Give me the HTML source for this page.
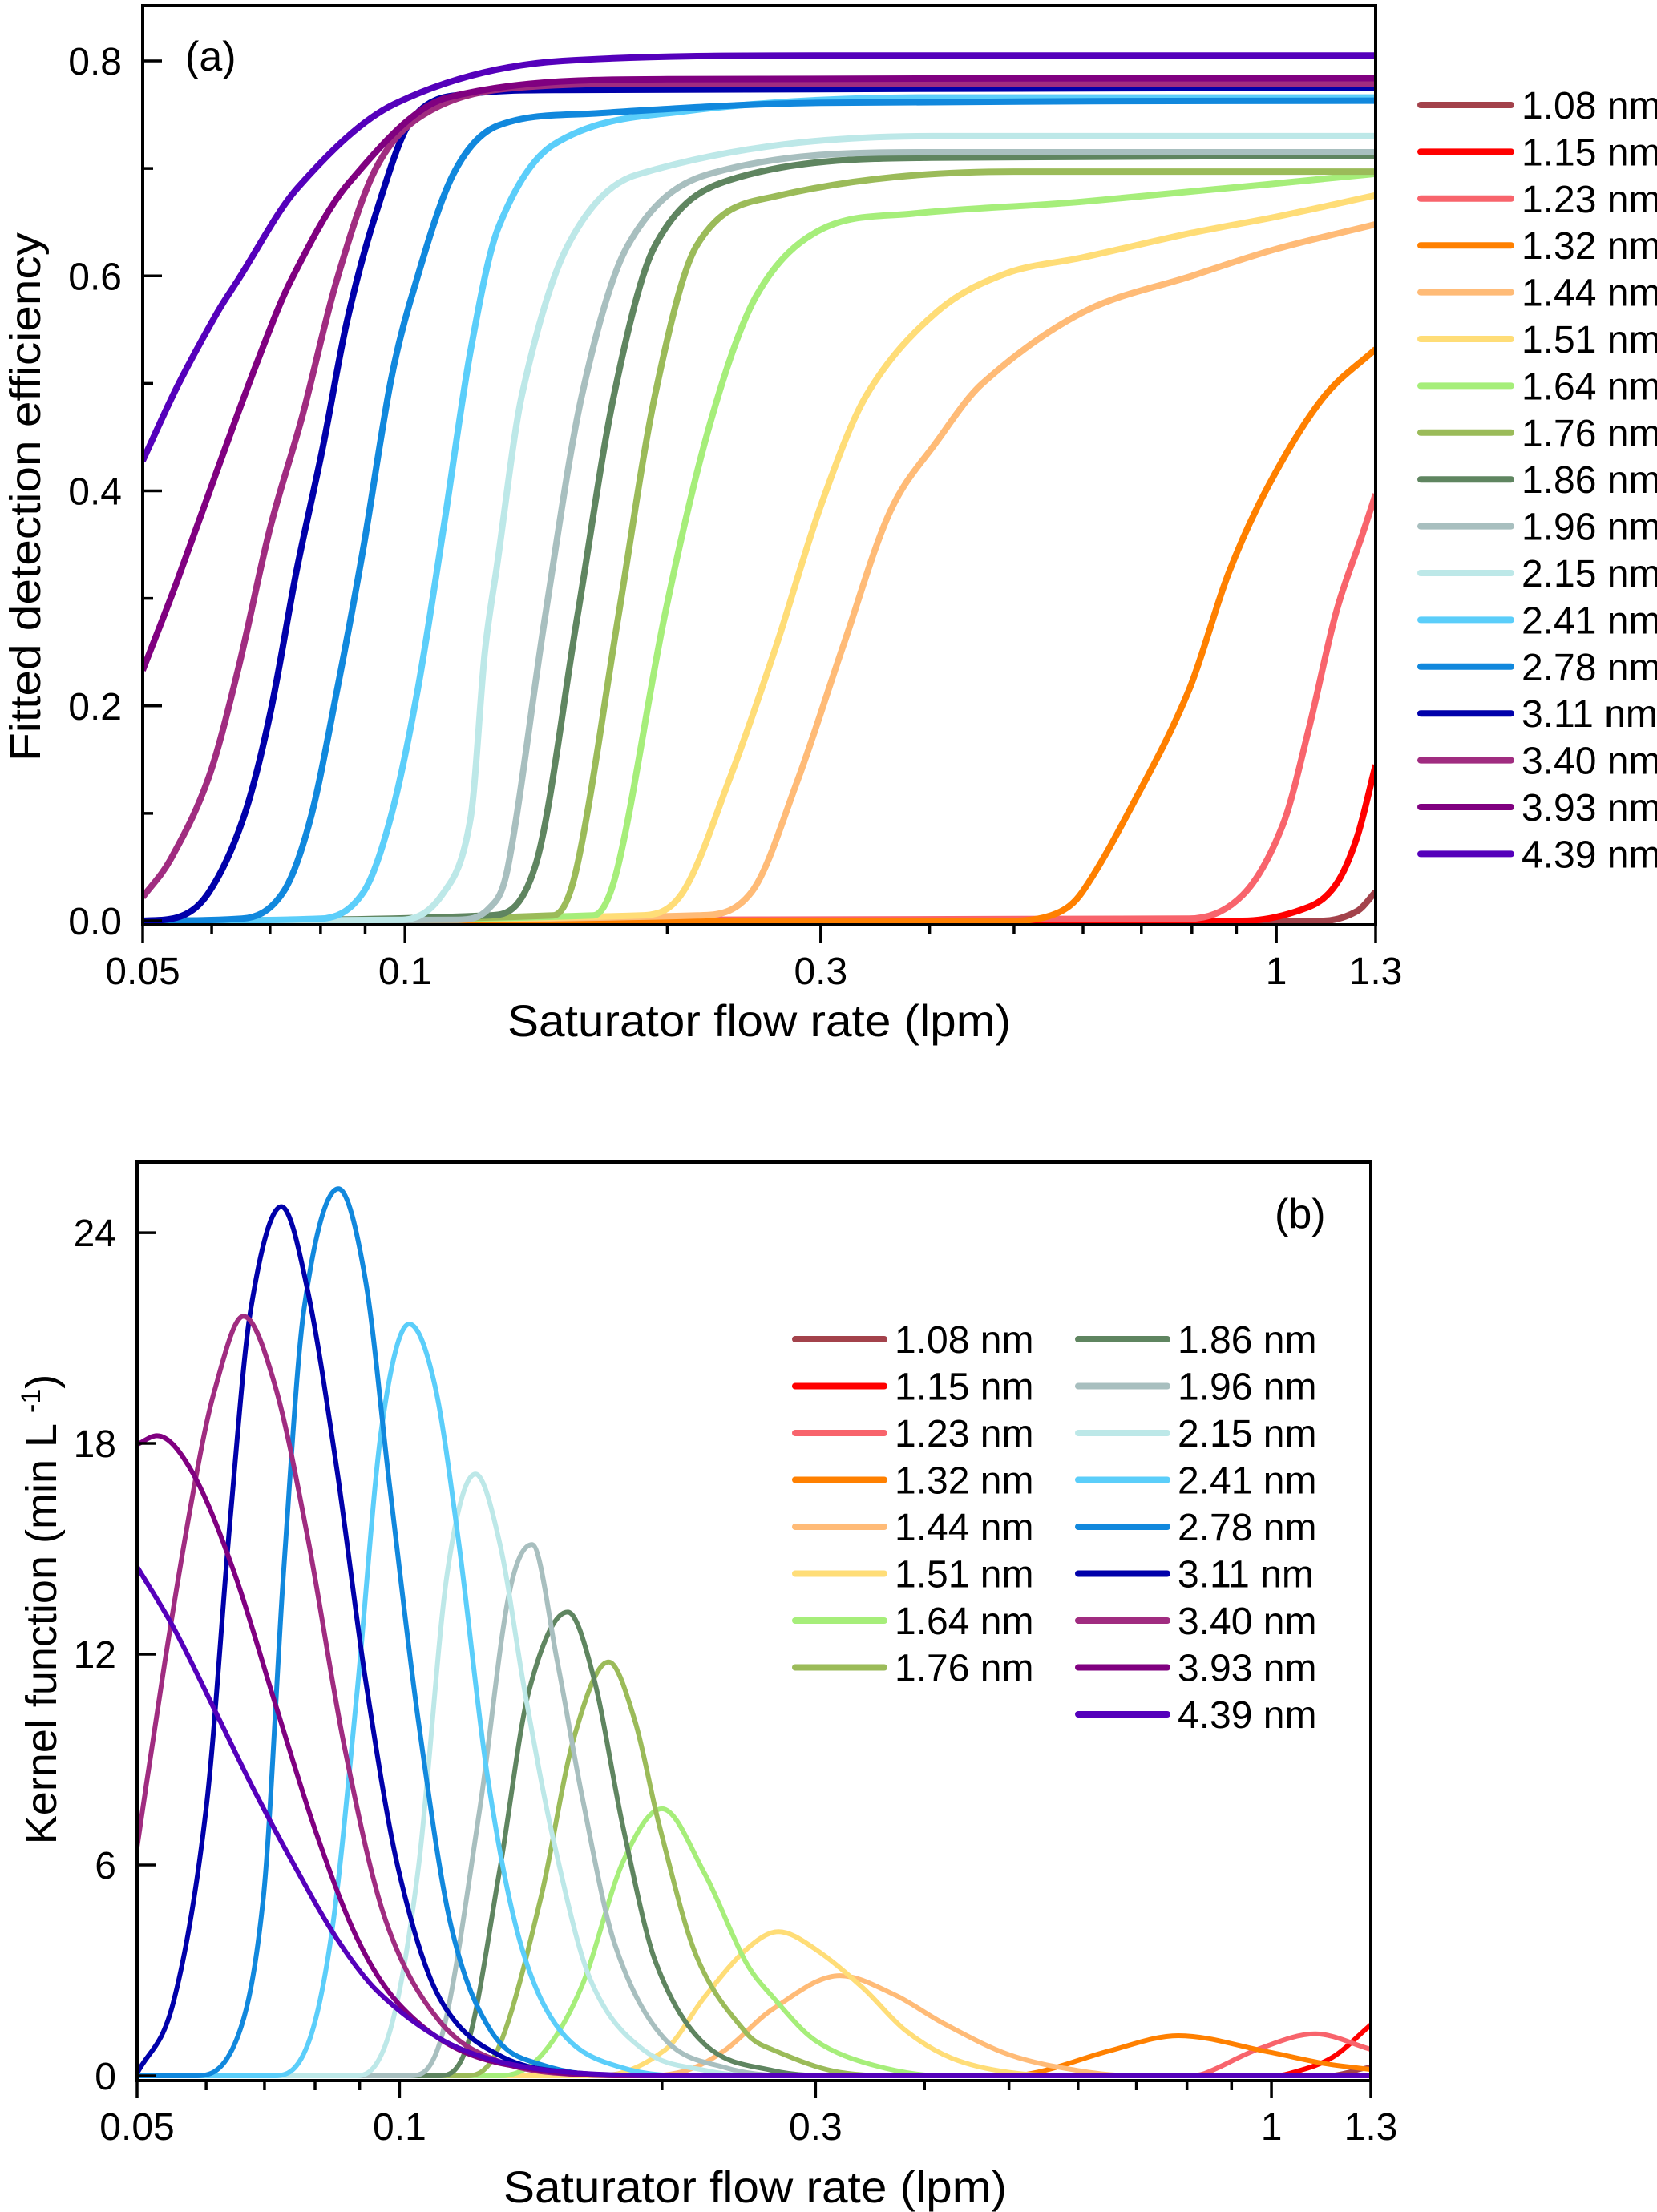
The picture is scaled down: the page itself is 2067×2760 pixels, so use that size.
<!DOCTYPE html>
<html><head><meta charset="utf-8">
<style>
html,body{margin:0;padding:0;background:#fff;}
svg{display:block;font-family:"Liberation Sans",Arial,sans-serif;}
</style></head>
<body>
<svg id="fig" width="2067" height="2760" viewBox="0 0 2067 2760" xmlns="http://www.w3.org/2000/svg">
<defs>
<clipPath id="clipA"><rect x="178" y="7" width="1538" height="1147"/></clipPath>
<clipPath id="clipB"><rect x="171" y="1450" width="1539" height="1146"/></clipPath>
</defs>
<g id="panelA"></g>
<g id="panelB"></g>
</svg>
<script>
const sizeLabels = ['1.08 nm','1.15 nm','1.23 nm','1.32 nm','1.44 nm','1.51 nm','1.64 nm','1.76 nm','1.86 nm','1.96 nm','2.15 nm','2.41 nm','2.78 nm','3.11 nm','3.40 nm','3.93 nm','4.39 nm'];
const seriesColors = ['#A3424B','#FF0000','#F8646C','#FF8000','#FFBB77','#FFDD77','#A6EE7A','#9BBB59','#5F8560','#A8BFBF','#BDE8E8','#5BCEFA','#1188DD','#0000AA','#A02C80','#800080','#5500BB'];

const flowTicks = [0.05,0.1,0.3,1,1.3];
const flowTickLabels = ['0.05','0.1','0.3','1','1.3'];
const flowMinorTicks = [0.06,0.07,0.08,0.09,0.2,0.4,0.5,0.6,0.7,0.8,0.9];
const effTicks = [0,0.2,0.4,0.6,0.8];
const effTickLabels = ['0.0','0.2','0.4','0.6','0.8'];
const effMinorTicks = [0.1,0.3,0.5,0.7];
const kernTicks = [0,6,12,18,24];
const kernTickLabels = ['0','6','12','18','24'];

// Panel (a): fitted detection efficiency [flow, efficiency]
const eff108 = [[0.05,0],[1.13,0],[1.238,0.009],[1.3,0.027]];
const eff115 = [[0.05,0],[0.915,0],[1.09,0.013],[1.171,0.034],[1.238,0.078],[1.3,0.145]];
const eff123 = [[0.05,0],[0.794,0.002],[0.915,0.024],[1.017,0.089],[1.09,0.179],[1.171,0.287],[1.256,0.36],[1.3,0.397]];
const eff132 = [[0.05,0],[0.5,0],[0.56,0.007],[0.599,0.027],[0.69,0.114],[0.794,0.215],[0.882,0.324],[0.981,0.406],[1.13,0.486],[1.3,0.532]];
const eff144 = [[0.05,0],[0.2166,0.005],[0.25,0.027],[0.282,0.13],[0.319,0.258],[0.36,0.38],[0.407,0.445],[0.46,0.5],[0.599,0.566],[0.8,0.6],[1.0,0.625],[1.3,0.648]];
const eff151 = [[0.05,0],[0.1867,0.005],[0.2085,0.027],[0.2353,0.13],[0.266,0.253],[0.3,0.386],[0.3386,0.489],[0.407,0.566],[0.4886,0.602],[0.599,0.617],[0.8,0.64],[1.0,0.655],[1.3,0.675]];
const eff164 = [[0.05,0],[0.1645,0.005],[0.1757,0.052],[0.1985,0.283],[0.224,0.463],[0.2533,0.582],[0.3,0.643],[0.383,0.658],[0.599,0.669],[1.3,0.695]];
const eff176 = [[0.05,0],[0.1479,0.005],[0.1577,0.052],[0.1757,0.283],[0.1936,0.489],[0.2161,0.628],[0.266,0.674],[0.5,0.697],[1.3,0.697]];
const eff186 = [[0.05,0],[0.1248,0.005],[0.1412,0.052],[0.1577,0.283],[0.1737,0.489],[0.1936,0.628],[0.2353,0.689],[0.402,0.71],[1.3,0.712]];
const eff196 = [[0.05,0],[0.115,0.001],[0.125,0.012],[0.1314,0.052],[0.1448,0.283],[0.1596,0.489],[0.1801,0.628],[0.2217,0.694],[0.402,0.715],[1.3,0.715]];
const eff215 = [[0.05,0],[0.0993,0.001],[0.1107,0.026],[0.1189,0.095],[0.1235,0.25],[0.1275,0.33],[0.1362,0.489],[0.1537,0.628],[0.1843,0.694],[0.402,0.73],[1.3,0.73]];
const eff241 = [[0.05,0],[0.08,0.002],[0.0895,0.026],[0.0962,0.095],[0.1032,0.211],[0.1107,0.365],[0.1189,0.53],[0.128,0.645],[0.148,0.722],[0.2085,0.753],[0.402,0.766],[1.3,0.766]];
const eff278 = [[0.05,0],[0.065,0.002],[0.0724,0.026],[0.0779,0.095],[0.0834,0.211],[0.0895,0.345],[0.0962,0.5],[0.1017,0.58],[0.1135,0.694],[0.128,0.74],[0.1638,0.751],[0.3,0.761],[1.3,0.763]];
const eff311 = [[0.05,0],[0.0547,0.003],[0.0595,0.026],[0.0652,0.095],[0.07,0.192],[0.0751,0.326],[0.0805,0.441],[0.0858,0.558],[0.0926,0.658],[0.1017,0.745],[0.1172,0.769],[0.151,0.773],[1.3,0.775]];
const eff340 = [[0.05,0.022],[0.0538,0.057],[0.0595,0.133],[0.0643,0.233],[0.07,0.365],[0.0762,0.469],[0.0835,0.596],[0.0926,0.7],[0.105,0.75],[0.13,0.774],[0.2,0.779],[1.3,0.779]];
const eff393 = [[0.05,0.233],[0.0547,0.315],[0.0608,0.418],[0.0676,0.519],[0.074,0.596],[0.0861,0.686],[0.112,0.766],[0.2,0.783],[1.3,0.784]];
const eff439 = [[0.05,0.428],[0.0547,0.496],[0.0608,0.565],[0.0643,0.596],[0.0753,0.682],[0.0973,0.76],[0.1516,0.8],[0.3,0.805],[1.3,0.805]];
const effSeriesList = [eff108,eff115,eff123,eff132,eff144,eff151,eff164,eff176,eff186,eff196,eff215,eff241,eff278,eff311,eff340,eff393,eff439];

// Panel (b): kernel function [flow, value]
const kern108 = [[0.05,0],[1.15,0],[1.3,0.25]];
const kern115 = [[0.05,0],[1.0,0],[1.05,0.07],[1.174,0.52],[1.3,1.45]];
const kern123 = [[0.05,0],[0.8,0],[0.839,0.07],[0.964,0.75],[1.123,1.19],[1.3,0.75]];
const kern132 = [[0.05,0],[0.5,0],[0.551,0.16],[0.65,0.7],[0.782,1.14],[0.991,0.68],[1.15,0.35],[1.3,0.18]];
const kern144 = [[0.05,0],[0.19,0],[0.2133,0.15],[0.2365,0.74],[0.268,1.9],[0.32,2.85],[0.37,2.3],[0.42,1.5],[0.5,0.6],[0.6,0.15],[0.7,0],[1.3,0]];
const kern151 = [[0.05,0],[0.17,0],[0.2017,0.74],[0.2238,2.24],[0.2494,3.58],[0.272,4.1],[0.3,3.6],[0.34,2.5],[0.38,1.3],[0.43,0.5],[0.5,0.1],[0.6,0],[1.3,0]];
const kern164 = [[0.05,0],[0.1304,0],[0.1453,0.57],[0.162,2.58],[0.1804,6.09],[0.2,7.6],[0.2238,5.76],[0.2494,3.25],[0.268,2.24],[0.3,1.0],[0.35,0.3],[0.42,0],[1.3,0]];
const kern176 = [[0.05,0],[0.1197,0],[0.1304,0.9],[0.1453,5.09],[0.1584,9.6],[0.1737,11.78],[0.1862,10.1],[0.1987,7.09],[0.219,3.41],[0.2494,1.24],[0.268,0.74],[0.32,0.1],[0.38,0],[1.3,0]];
const kern186 = [[0.05,0],[0.1106,0],[0.1197,0.9],[0.1304,5.92],[0.1407,10.94],[0.1559,13.2],[0.1672,11.28],[0.1804,7.09],[0.1966,3.25],[0.2238,0.9],[0.268,0.15],[0.32,0],[1.3,0]];
const kern196 = [[0.05,0],[0.1029,0],[0.1121,1.24],[0.1236,7.6],[0.1333,13.62],[0.1419,15.12],[0.1517,11.78],[0.162,7.93],[0.1765,3.75],[0.201,1.07],[0.2365,0.23],[0.28,0],[1.3,0]];
const kern215 = [[0.05,0],[0.0894,0],[0.0974,1.24],[0.1051,5.92],[0.1134,14.29],[0.1222,17.13],[0.1304,15.12],[0.1392,10.94],[0.15,6.76],[0.1655,2.74],[0.1904,0.74],[0.2246,0.15],[0.26,0],[1.3,0]];
const kern241 = [[0.05,0],[0.072,0],[0.0785,0.9],[0.0838,4.25],[0.0894,10.94],[0.0954,18.47],[0.1026,21.4],[0.1098,19.64],[0.117,15.12],[0.1263,8.43],[0.1377,3.75],[0.1534,1.24],[0.18,0.23],[0.22,0],[1.3,0]];
const kern278 = [[0.05,0],[0.058,0],[0.0647,0.9],[0.0698,5.09],[0.0736,14.29],[0.0777,21.82],[0.0851,25.25],[0.0914,22.65],[0.0974,16.8],[0.1051,10.1],[0.1146,4.25],[0.1276,1.24],[0.1453,0.32],[0.18,0],[1.3,0]];
const kern311 = [[0.05,0.07],[0.055,2.07],[0.06,7.6],[0.064,15.96],[0.0675,21.82],[0.0732,24.74],[0.0785,22.32],[0.0847,17.3],[0.0914,11.28],[0.0996,5.92],[0.111,2.24],[0.1304,0.57],[0.162,0.07],[0.2,0],[1.3,0]];
const kern340 = [[0.05,6.51],[0.0538,11.78],[0.058,16.63],[0.0613,19.47],[0.0662,21.62],[0.072,19.64],[0.0785,15.29],[0.0866,9.27],[0.0964,4.42],[0.111,1.57],[0.1304,0.4],[0.162,0.03],[0.2,0],[1.3,0]];
const kern393 = [[0.05,17.97],[0.0527,18.22],[0.058,17.13],[0.0647,14.29],[0.072,10.6],[0.0802,6.93],[0.0894,3.91],[0.0996,2.07],[0.117,0.74],[0.1453,0.15],[0.18,0],[1.3,0]];
const kern439 = [[0.05,14.49],[0.055,12.78],[0.0613,10.44],[0.0682,8.1],[0.076,5.92],[0.0847,3.91],[0.0943,2.41],[0.111,1.07],[0.1304,0.4],[0.162,0.07],[0.22,0],[1.3,0]];
const kernSeriesList = [kern108,kern115,kern123,kern132,kern144,kern151,kern164,kern176,kern186,kern196,kern215,kern241,kern278,kern311,kern340,kern393,kern439];

const NS = 'http://www.w3.org/2000/svg';
const L26 = Math.log(26);
function xA(f){ return 178 + 1538*Math.log(f/0.05)/L26; }
function yA(v){ return 1149 - v*1341.25; }
function xB(f){ return 171 + 1539*Math.log(f/0.05)/L26; }
function yB(v){ return 2590 - v*43.83; }

function mk(tag, attrs, parent){
  const e = document.createElementNS(NS, tag);
  for (const k in attrs) e.setAttribute(k, attrs[k]);
  parent.appendChild(e);
  return e;
}

function smoothPath(pts){
  const n = pts.length;
  if (n < 2) return '';
  const dx=[],m=[];
  for (let i=0;i<n-1;i++){ dx[i]=pts[i+1][0]-pts[i][0]; m[i]=(pts[i+1][1]-pts[i][1])/dx[i]; }
  const t=[];
  t[0]=m[0]; t[n-1]=m[n-2];
  for (let i=1;i<n-1;i++){
    if (m[i-1]*m[i] <= 0) t[i]=0;
    else t[i]=(pts[i+1][1]-pts[i-1][1])/(pts[i+1][0]-pts[i-1][0]);
  }
  for (let i=0;i<n-1;i++){
    if (m[i]===0){ t[i]=0; t[i+1]=0; continue; }
    const a=t[i]/m[i], b=t[i+1]/m[i], s=a*a+b*b;
    if (s>9){ const tau=3/Math.sqrt(s); t[i]=tau*a*m[i]; t[i+1]=tau*b*m[i]; }
  }
  let d='M'+pts[0][0].toFixed(1)+','+pts[0][1].toFixed(1);
  for (let i=0;i<n-1;i++){
    const h=dx[i];
    d+=' C'+(pts[i][0]+h/3).toFixed(1)+','+(pts[i][1]+t[i]*h/3).toFixed(1)+' '+
       (pts[i+1][0]-h/3).toFixed(1)+','+(pts[i+1][1]-t[i+1]*h/3).toFixed(1)+' '+
       pts[i+1][0].toFixed(1)+','+pts[i+1][1].toFixed(1);
  }
  return d;
}

function drawPanel(g, cfg){
  const sg = mk('g', {'clip-path':'url(#'+cfg.clip+')'}, g);
  
  
  for (let s=0; s<cfg.series.length; s++){
    const pts = cfg.series[s].map(p => [cfg.x(p[0]), cfg.y(p[1])]);
    const p = mk('path', {d: smoothPath(pts), fill:'none', stroke: seriesColors[s], 'stroke-width': cfg.lw, 'stroke-linejoin':'round'}, sg);
    
    
  }
  const fr = mk('rect', {x:cfg.left, y:cfg.top, width:cfg.right-cfg.left, height:cfg.bottom-cfg.top, fill:'none', stroke:'#000', 'stroke-width':4}, g);
  
  
  for (let i=0;i<flowTicks.length;i++){
    const x = cfg.x(flowTicks[i]);
    const tk = mk('line', {x1:x, y1:cfg.bottom, x2:x, y2:cfg.bottom+22, stroke:'#000', 'stroke-width':3.5}, g);
    
    
    const tl = mk('text', {x:x, y:cfg.bottom+74, 'font-size':48, 'text-anchor':'middle', fill:'#000'}, g);
    tl.textContent = flowTickLabels[i];
    
    
  }
  for (const f of flowMinorTicks){
    const x = cfg.x(f);
    const tk = mk('line', {x1:x, y1:cfg.bottom, x2:x, y2:cfg.bottom+12, stroke:'#000', 'stroke-width':3.5}, g);
    
    
  }
  for (let i=0;i<cfg.yTicks.length;i++){
    const y = cfg.y(cfg.yTicks[i]);
    const tk = mk('line', {x1:cfg.left, y1:y, x2:cfg.left+24, y2:y, stroke:'#000', 'stroke-width':3.5}, g);
    
    
    const tl = mk('text', {x:cfg.left-26, y:y+17, 'font-size':48, 'text-anchor':'end', fill:'#000'}, g);
    tl.textContent = cfg.yTickLabels[i];
    
    
  }
  for (const v of cfg.yMinor){
    const y = cfg.y(v);
    const tk = mk('line', {x1:cfg.left, y1:y, x2:cfg.left+13, y2:y, stroke:'#000', 'stroke-width':3.5}, g);
    
    
  }
  for (let i=0;i<cfg.legendPos.length;i++){
    const lp = cfg.legendPos[i];
    const lg = mk('g', {}, g);
    
    
    mk('line', {x1:lp[0], y1:lp[2], x2:lp[1], y2:lp[2], stroke:seriesColors[i], 'stroke-width':8, 'stroke-linecap':'round'}, lg);
    const tt = mk('text', {x:lp[1]+13, y:lp[2]+17, 'font-size':48, fill:'#000'}, lg);
    tt.textContent = sizeLabels[i];
  }
}

const legendA = sizeLabels.map((s,i)=>[1772,1885,131+58.4*i]);
const legendB = sizeLabels.map((s,i)=> i<8 ? [992,1103,1671+58.5*i] : [1345,1456,1671+58.5*(i-8)]);

drawPanel(document.getElementById('panelA'), {prefix:'a', clip:'clipA', series:effSeriesList, x:xA, y:yA, lw:8,
  left:178, right:1716, top:7, bottom:1154, yTicks:effTicks, yTickLabels:effTickLabels, yMinor:effMinorTicks, legendPos:legendA});
drawPanel(document.getElementById('panelB'), {prefix:'b', clip:'clipB', series:kernSeriesList, x:xB, y:yB, lw:6,
  left:171, right:1710, top:1450, bottom:2596, yTicks:kernTicks, yTickLabels:kernTickLabels, yMinor:[], legendPos:legendB});

const svg = document.getElementById('fig');
function label(txt, attrs, name){
  const t = mk('text', attrs, svg);
  t.textContent = txt;
  
  
  return t;
}
label('(a)', {x:231, y:88, 'font-size':52, fill:'#000'}, 'panel-a-label');
label('(b)', {x:1590, y:1532, 'font-size':52, fill:'#000'}, 'panel-b-label');
label('Saturator flow rate (lpm)', {x:947, y:1293, 'font-size':56, 'text-anchor':'middle', textLength:628, lengthAdjust:'spacingAndGlyphs', fill:'#000'}, 'a-x-axis-title');
label('Saturator flow rate (lpm)', {x:942, y:2748, 'font-size':56, 'text-anchor':'middle', textLength:628, lengthAdjust:'spacingAndGlyphs', fill:'#000'}, 'b-x-axis-title');
label('Fitted detection efficiency', {x:0, y:0, 'font-size':54, 'text-anchor':'middle', textLength:660, lengthAdjust:'spacingAndGlyphs', fill:'#000', transform:'translate(50,620) rotate(-90)'}, 'a-y-axis-title');
const yb = mk('text', {x:0, y:0, 'font-size':54, 'text-anchor':'middle', fill:'#000', transform:'translate(70,2008) rotate(-90)'}, svg);


const t1 = mk('tspan', {}, yb); t1.textContent = 'Kernel function (min L ';
const t2 = mk('tspan', {'font-size':34, dy:-20}, yb); t2.textContent = '-1';
const t3 = mk('tspan', {dy:20}, yb); t3.textContent = ')';
</script>
</body></html>
